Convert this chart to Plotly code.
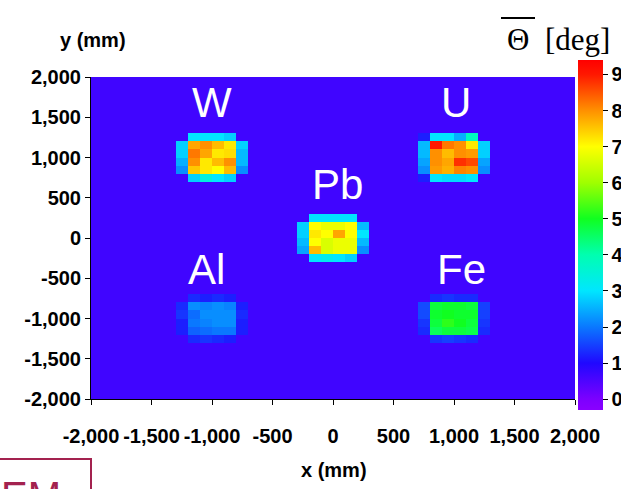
import plotly.graph_objects as go

# ---- data ----
BIN_EDGES = list(range(-2000, 2001, 100))          # 40 x 40 bins of 100 mm
BIN_CENTERS = [e + 50 for e in BIN_EDGES[:-1]]
BACKGROUND = 0.65                                   # mean scattering angle outside blocks

# 6x6 bins per block (top row first), None = background corner
W_VALUES = [
    [None, 3.0, 3.0, 3.0, 2.8, None],
    [2.8, 7.8, 8.0, 7.6, 7.2, 2.8],
    [2.8, 8.2, 7.8, 7.2, 7.3, 2.6],
    [2.5, 8.0, 7.2, 7.6, 8.0, 2.6],
    [2.2, 7.5, 7.2, 7.0, 7.6, 2.2],
    [None, 2.8, 3.4, 3.0, 2.8, None],
]
U_VALUES = [
    [1.2, 3.0, 3.0, 2.5, 3.8, None],
    [2.6, 9.0, 8.2, 8.0, 7.2, 2.8],
    [2.6, 8.0, 7.6, 8.0, 7.9, 2.8],
    [2.4, 8.0, 7.8, 8.8, 8.6, 2.4],
    [2.2, 7.9, 7.7, 8.1, 8.0, 2.2],
    [1.2, 3.0, 2.9, 2.9, 3.0, None],
]
PB_VALUES = [
    [None, 3.0, 3.0, 3.0, 3.0, None],
    [2.8, 7.0, 6.8, 6.8, 7.0, 2.6],
    [2.8, 7.2, 7.0, 7.8, 7.0, 3.0],
    [2.6, 7.0, 6.6, 6.8, 6.8, 2.6],
    [2.4, 7.6, 6.6, 6.8, 6.8, 2.2],
    [None, 3.0, 3.2, 3.0, 2.8, None],
]
AL_VALUES = [
    [None, 1.3, 1.2, 1.3, 1.2, None],
    [1.3, 2.2, 2.1, 2.2, 2.1, 1.2],
    [1.4, 1.9, 2.2, 2.2, 2.2, 1.3],
    [1.2, 2.0, 2.1, 2.2, 2.2, 1.2],
    [1.2, 1.8, 1.9, 2.0, 2.0, 1.2],
    [None, 1.3, 1.4, 1.3, 1.2, None],
]
FE_VALUES = [
    [None, 1.3, 1.4, 1.3, 1.3, None],
    [1.6, 4.8, 4.9, 4.9, 4.8, 1.5],
    [1.6, 4.9, 5.0, 4.9, 4.9, 1.5],
    [1.4, 4.8, 5.2, 5.0, 4.8, 1.4],
    [1.3, 4.6, 4.8, 4.8, 4.7, 1.3],
    [None, 1.4, 1.5, 1.4, 1.3, None],
]
# lower-left corner (x, y) in mm of each 6x6 block
BLOCK_ORIGINS = {"W": (-1300, 700), "U": (700, 700), "Pb": (-300, -300),
                 "Al": (-1300, -1300), "Fe": (700, -1300)}
BLOCK_VALUES = {"W": W_VALUES, "U": U_VALUES, "Pb": PB_VALUES,
                "Al": AL_VALUES, "Fe": FE_VALUES}
LABEL_POS = {"W": (-1000, 1680), "U": (1020, 1680), "Pb": (40, 660),
             "Al": (-1045, -390), "Fe": (1060, -390)}

TICKS = list(range(-2000, 2001, 500))
CB_TICKS = list(range(0, 10))
Z_MIN, Z_MAX = -0.3, 9.4

# ---- build grid ----
n = len(BIN_CENTERS)
z = [[BACKGROUND] * n for _ in range(n)]
for name, vals in BLOCK_VALUES.items():
    x0, y0 = BLOCK_ORIGINS[name]
    ix0 = BIN_EDGES.index(x0)
    iy0 = BIN_EDGES.index(y0)
    nrow = len(vals)
    for r, row in enumerate(vals):
        iy = iy0 + (nrow - 1 - r)
        for c, v in enumerate(row):
            if v is not None:
                z[iy][ix0 + c] = v

stops = [(-0.3, "#8a00ff"), (0, "#7c00ff"), (1, "#2008ff"), (2, "#0a78ff"),
         (3, "#00e6ff"), (4, "#00ffb0"), (5, "#10ff20"), (6, "#a0ff00"),
         (7, "#ffff00"), (8, "#ff9000"), (9, "#ff1800"), (9.4, "#ff0000")]
colorscale = [[(v - Z_MIN) / (Z_MAX - Z_MIN), c] for v, c in stops]

W_PX, H_PX = 621, 489
L, R, T, B = 91, 46, 77, 90
pw, ph = W_PX - L - R, H_PX - T - B

def px(xp):
    return (xp - L) / pw

def py(yp):
    return (H_PX - B - yp) / ph

TICK_FONT = dict(family="Liberation Sans Narrow, Arial Narrow, Liberation Sans, Arial",
                 size=20, color="black", weight="bold")
SERIF = dict(family="Liberation Serif, Times New Roman", size=31, color="black")

fig = go.Figure(go.Heatmap(
    x=BIN_CENTERS, y=BIN_CENTERS, z=z, zmin=Z_MIN, zmax=Z_MAX,
    colorscale=colorscale, zsmooth=False,
    colorbar=dict(thickness=25, thicknessmode="pixels", len=350, lenmode="pixels",
                  x=px(578), xanchor="left", y=py(235), yanchor="middle",
                  tickvals=CB_TICKS, ticktext=[str(t) for t in CB_TICKS],
                  ticks="outside", ticklen=5, tickcolor="black",
                  tickfont=TICK_FONT, outlinewidth=0, xpad=0, ypad=0),
))

fig.update_xaxes(range=[-2000, 2000], tickvals=TICKS, ticktext=[f"{t:,}" for t in TICKS],
                 ticks="outside", ticklen=5, tickcolor="black", tickfont=TICK_FONT,
                 showline=True, linecolor="black", linewidth=1, showgrid=False,
                 zeroline=False, ticklabelstandoff=14)
fig.update_yaxes(range=[-2000, 2000], tickvals=TICKS, ticktext=[f"{t:,}" for t in TICKS],
                 ticks="outside", ticklen=5, tickcolor="black", tickfont=TICK_FONT,
                 showline=True, linecolor="black", linewidth=1, showgrid=False,
                 zeroline=False)

ann = []
for name, (ax, ay) in LABEL_POS.items():
    ann.append(dict(x=ax, y=ay, xref="x", yref="y", text=name, showarrow=False,
                    yanchor="middle",
                    font=dict(family="Liberation Sans, Arial", size=42, color="white")))
ann.append(dict(x=px(58), y=py(40), xref="paper", yref="paper", text="y (mm)",
                yanchor="middle", showarrow=False, font=TICK_FONT))
ann.append(dict(x=px(334), y=py(470), xref="paper", yref="paper", text="x (mm)",
                yanchor="middle", showarrow=False, font=TICK_FONT))
ann.append(dict(x=px(518), y=py(39), xref="paper", yref="paper", text="Θ",
                xanchor="center", yanchor="middle", showarrow=False, font=SERIF))
ann.append(dict(x=px(543), y=py(39), xref="paper", yref="paper", text="[deg]",
                xanchor="left", yanchor="middle", showarrow=False, font=SERIF))
ann.append(dict(x=px(-1), y=py(472), xref="paper", yref="paper", text="EM",
                xanchor="left", yanchor="top", showarrow=False,
                font=dict(family="Liberation Sans, Arial", size=40, color="#a3224f")))

shapes = [
    dict(type="line", xref="paper", yref="paper", x0=px(501), x1=px(535), y0=py(18), y1=py(18),
         line=dict(color="black", width=2)),
    dict(type="rect", xref="paper", yref="paper", x0=px(-5), x1=px(91), y0=py(459), y1=py(500),
         line=dict(color="#a3224f", width=2)),
]

fig.update_layout(width=W_PX, height=H_PX,
                  margin=dict(l=L, r=R, t=T, b=B, autoexpand=False),
                  paper_bgcolor="white", plot_bgcolor="white",
                  annotations=ann, shapes=shapes, showlegend=False)

fig.write_html("out.html")
